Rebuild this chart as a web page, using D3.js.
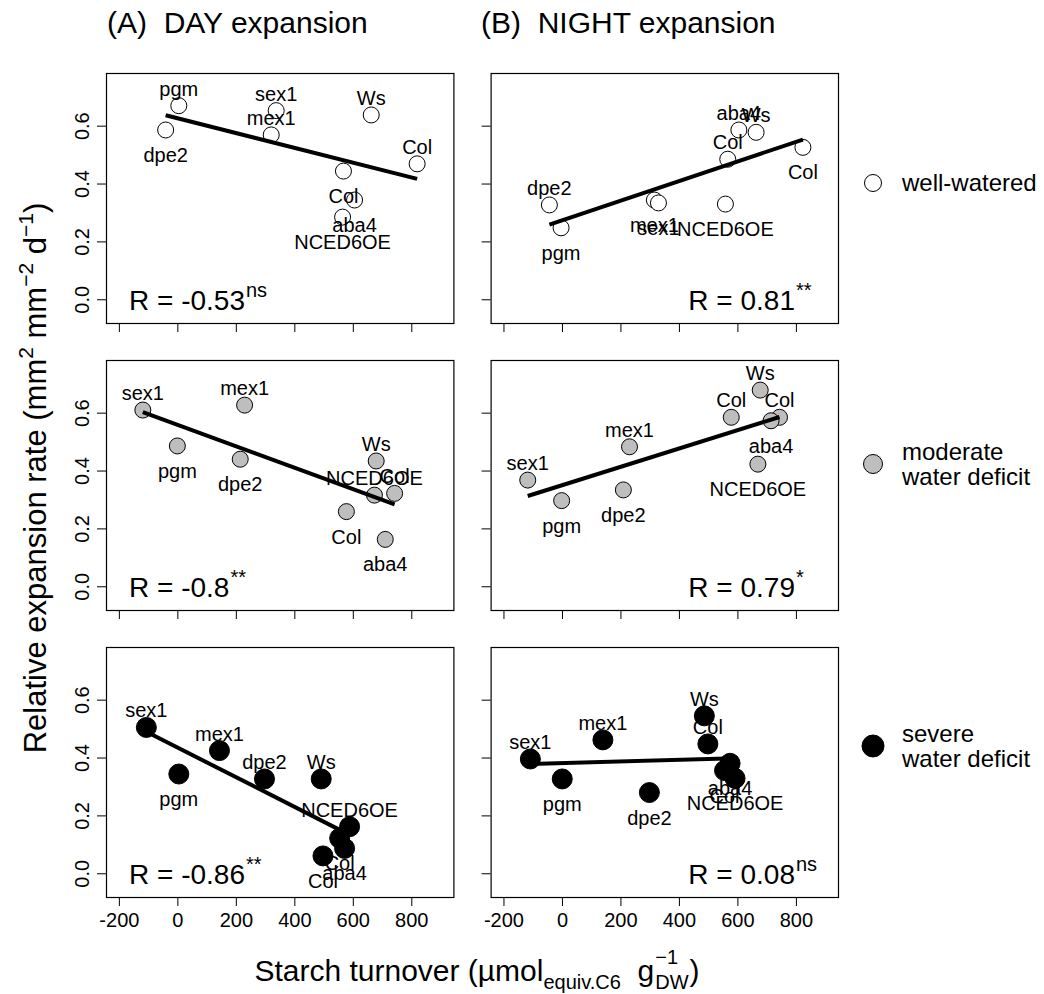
<!DOCTYPE html>
<html><head><meta charset="utf-8">
<script src="https://cdn.jsdelivr.net/npm/d3@7"></script>
<style>
body{margin:0;background:#fff}
svg{display:block}
text{font-family:"Liberation Sans",Arial,Helvetica,sans-serif;white-space:pre;fill:#000}
</style>
</head><body>
<svg id="chart" width="1044" height="994"></svg>
<script>
// ---------------- data ----------------
const xTicks = [-200, 0, 200, 400, 600, 800];
const xTickLabels = ["-200", "0", "200", "400", "600", "800"];
const yTicks = [0.0, 0.2, 0.4, 0.6];
const yTickLabels = ["0.0", "0.2", "0.4", "0.6"];
const columnTitles = ["(A)  DAY expansion", "(B)  NIGHT expansion"];
const conditionLines = [["well-watered"], ["moderate", "water deficit"], ["severe", "water deficit"]];
const conditionFills = ["#ffffff", "#bebebe", "#000000"];

// DAY, well-watered
const dayWW_names = ["pgm", "dpe2", "sex1", "mex1", "Ws", "Col", "Col", "aba4", "NCED6OE"];
const dayWW_x = [5, -40, 338, 321, 663, 820, 568, 606, 565];
const dayWW_y = [0.669, 0.585, 0.652, 0.568, 0.637, 0.468, 0.443, 0.343, 0.284];
const dayWW_pos = ["t", "b", "t", "t", "t", "t", "b", "b", "b"];
// NIGHT, well-watered
const nightWW_names = ["dpe2", "pgm", "mex1", "sex1", "NCED6OE", "Col", "aba4", "Ws", "Col"];
const nightWW_x = [-43, -3, 316, 330, 559, 567, 605, 664, 824];
const nightWW_y = [0.326, 0.247, 0.343, 0.333, 0.329, 0.484, 0.585, 0.577, 0.525];
const nightWW_pos = ["t", "b", "b", "b", "b", "t", "t", "t", "b"];
// DAY, moderate water deficit
const dayMod_names = ["sex1", "mex1", "pgm", "dpe2", "Ws", "NCED6OE", "Col", "Col", "aba4"];
const dayMod_x = [-118, 230, 0, 215, 680, 674, 743, 578, 711];
const dayMod_y = [0.609, 0.626, 0.485, 0.439, 0.433, 0.315, 0.321, 0.258, 0.162];
const dayMod_pos = ["t", "t", "b", "b", "t", "t", "t", "b", "b"];
// NIGHT, moderate water deficit
const nightMod_names = ["sex1", "pgm", "mex1", "dpe2", "Col", "Ws", "Col", "aba4", "NCED6OE"];
const nightMod_x = [-117, -1, 231, 210, 579, 678, 744, 715, 670];
const nightMod_y = [0.367, 0.296, 0.482, 0.333, 0.584, 0.678, 0.584, 0.572, 0.422];
const nightMod_pos = ["t", "b", "t", "b", "t", "t", "t", "b", "b"];
// DAY, severe water deficit
const daySev_names = ["sex1", "mex1", "pgm", "dpe2", "Ws", "NCED6OE", "Col", "aba4", "Col"];
const daySev_x = [-106, 144, 5, 298, 492, 589, 555, 572, 498];
const daySev_y = [0.504, 0.424, 0.343, 0.326, 0.326, 0.161, 0.121, 0.086, 0.060];
const daySev_pos = ["t", "t", "b", "t", "t", "t", "b", "b", "b"];
// NIGHT, severe water deficit
const nightSev_names = ["sex1", "pgm", "mex1", "dpe2", "Ws", "Col", "aba4", "Col", "NCED6OE"];
const nightSev_x = [-108, 1, 140, 299, 487, 499, 575, 556, 592];
const nightSev_y = [0.395, 0.326, 0.461, 0.279, 0.544, 0.447, 0.380, 0.355, 0.328];
const nightSev_pos = ["t", "b", "t", "b", "t", "t", "b", "b", "b"];

// correlation labels
const rValues = ["-0.53", "0.81", "-0.8", "0.79", "-0.86", "0.08"];
const rSignif = ["ns", "**", "**", "*", "**", "ns"];

// ---------------- layout ----------------
const panels = [
  {names: dayWW_names, xs: dayWW_x, ys: dayWW_y, pos: dayWW_pos, col: 0, row: 0},
  {names: nightWW_names, xs: nightWW_x, ys: nightWW_y, pos: nightWW_pos, col: 1, row: 0},
  {names: dayMod_names, xs: dayMod_x, ys: dayMod_y, pos: dayMod_pos, col: 0, row: 1},
  {names: nightMod_names, xs: nightMod_x, ys: nightMod_y, pos: nightMod_pos, col: 1, row: 1},
  {names: daySev_names, xs: daySev_x, ys: daySev_y, pos: daySev_pos, col: 0, row: 2},
  {names: nightSev_names, xs: nightSev_x, ys: nightSev_y, pos: nightSev_pos, col: 1, row: 2}
];
const colLeft = [106, 490.6];
const rowTop = [73, 360, 647];
const pw = 347.4, ph = 250;

const svg = d3.select("#chart");
const x = d3.scaleLinear().domain([-244, 944]).range([0, pw]);
const y = d3.scaleLinear().domain([-0.082, 0.782]).range([ph, 0]);

function ols(xs, ys) {
  const n = xs.length, mx = d3.mean(xs), my = d3.mean(ys);
  let sxy = 0, sxx = 0;
  for (let i = 0; i < n; i++) { sxy += (xs[i] - mx) * (ys[i] - my); sxx += (xs[i] - mx) ** 2; }
  const b = sxy / sxx;
  return {b, a: my - b * mx};
}

panels.forEach((p, i) => {
  const g = svg.append("g").attr("transform", `translate(${colLeft[p.col]},${rowTop[p.row]})`);
  const fill = conditionFills[p.row];
  const r = p.row === 2 ? 10 : 8;

  // y axis
  const ya = g.append("g").call(d3.axisLeft(y).tickValues(yTicks).tickSize(9).tickSizeOuter(0)
    .tickFormat((d, k) => p.col === 0 ? yTickLabels[k] : ""));
  ya.select(".domain").remove();
  ya.selectAll("line").attr("stroke", "#000");
  ya.selectAll("text").attr("font-size", 20).attr("font-family", null)
    .attr("x", 0).attr("dy", 0).attr("text-anchor", "middle")
    .attr("transform", "translate(-17,0) rotate(-90)");

  // x axis
  const xa = g.append("g").attr("transform", `translate(0,${ph})`)
    .call(d3.axisBottom(x).tickValues(xTicks).tickSize(9).tickSizeOuter(0).tickPadding(7)
    .tickFormat((d, k) => p.row === 2 ? xTickLabels[k] : ""));
  xa.select(".domain").remove();
  xa.selectAll("line").attr("stroke", "#000");
  xa.selectAll("text").attr("font-size", 20).attr("font-family", null);

  // box
  g.append("rect").attr("x", 0.5).attr("y", 0.5).attr("width", pw).attr("height", ph)
    .attr("fill", "none").attr("stroke", "#000").attr("stroke-width", 1.2);

  const pts = p.names.map((n, k) => ({n, vx: p.xs[k], vy: p.ys[k], pos: p.pos[k]}));

  // points
  g.selectAll("circle.pt").data(pts).enter().append("circle")
    .attr("cx", d => x(d.vx)).attr("cy", d => y(d.vy)).attr("r", r)
    .attr("fill", fill).attr("stroke", "#000").attr("stroke-width", 1);

  // labels
  g.selectAll("text.lab").data(pts).enter().append("text")
    .attr("x", d => x(d.vx))
    .attr("y", d => y(d.vy) + (d.pos === "t" ? -10 : 32))
    .attr("text-anchor", "middle").attr("font-size", 20)
    .text(d => d.n);

  // regression line
  const f = ols(p.xs, p.ys);
  const x0 = d3.min(p.xs), x1 = d3.max(p.xs);
  g.append("line").attr("x1", x(x0)).attr("y1", y(f.a + f.b * x0))
    .attr("x2", x(x1)).attr("y2", y(f.a + f.b * x1))
    .attr("stroke", "#000").attr("stroke-width", 4);

  // R text
  const base = 237;
  if (p.col === 0) {
    const t = g.append("text").attr("x", 23).attr("y", base).attr("font-size", 28);
    t.append("tspan").text("R = " + rValues[i]);
    t.append("tspan").attr("font-size", 20).attr("dy", -13).attr("dx", 1).text(rSignif[i]);
  } else {
    g.append("text").attr("x", pw - 43).attr("y", base).attr("font-size", 28)
      .attr("text-anchor", "end").text("R = " + rValues[i]);
    g.append("text").attr("x", pw - 42).attr("y", base - 13).attr("font-size", 20)
      .text(rSignif[i]);
  }
});

// column titles
columnTitles.forEach((t, k) => {
  svg.append("text").attr("x", [107, 481][k]).attr("y", 33).attr("font-size", 30).text(t);
});

// legend
const legendY = [183, 464, 746];
const legendR = [8.5, 9.5, 11];
conditionLines.forEach((lines, k) => {
  svg.append("circle").attr("cx", 873).attr("cy", legendY[k]).attr("r", legendR[k])
    .attr("fill", conditionFills[k]).attr("stroke", "#000").attr("stroke-width", 1);
  lines.forEach((ln, j) => {
    const by = lines.length === 1 ? legendY[k] + 8 : legendY[k] - 4.5 + j * 25;
    svg.append("text").attr("x", 902).attr("y", by).attr("font-size", 24).text(ln);
  });
});

// y-axis title
const yt = svg.append("text").attr("transform", "translate(46,478) rotate(-90)")
  .attr("text-anchor", "middle").attr("font-size", 31);
yt.append("tspan").text("Relative expansion rate (mm");
yt.append("tspan").attr("font-size", 21).attr("dy", -13).text("2");
yt.append("tspan").attr("dy", 13).text(" mm");
yt.append("tspan").attr("font-size", 21).attr("dy", -13).text("\u22122");
yt.append("tspan").attr("dy", 13).text(" d");
yt.append("tspan").attr("font-size", 21).attr("dy", -13).text("\u22121");
yt.append("tspan").attr("dy", 13).text(")");

// x-axis title
const xg = svg.append("g");
const xBase = 981;
const xt = xg.append("text").attr("x", 0).attr("y", xBase).attr("font-size", 30);
xt.append("tspan").text("Starch turnover (\u00b5mol");
xt.append("tspan").attr("font-size", 20).attr("dy", 8).text("equiv.C6");
xt.append("tspan").attr("dy", -8).text("  g");
const w1 = xt.node().getComputedTextLength();
const sup = xg.append("text").attr("x", w1 + 1).attr("y", xBase - 17).attr("font-size", 20).text("\u22121");
const sub = xg.append("text").attr("x", w1 + 1).attr("y", xBase + 8).attr("font-size", 20).text("DW");
const w2 = Math.max(sup.node().getComputedTextLength(), sub.node().getComputedTextLength());
const cp = xg.append("text").attr("x", w1 + 2 + w2).attr("y", xBase).attr("font-size", 30).text(")");
const wt = w1 + 2 + w2 + cp.node().getComputedTextLength();
xg.attr("transform", `translate(${477 - wt / 2},0)`);
</script>
</body></html>
